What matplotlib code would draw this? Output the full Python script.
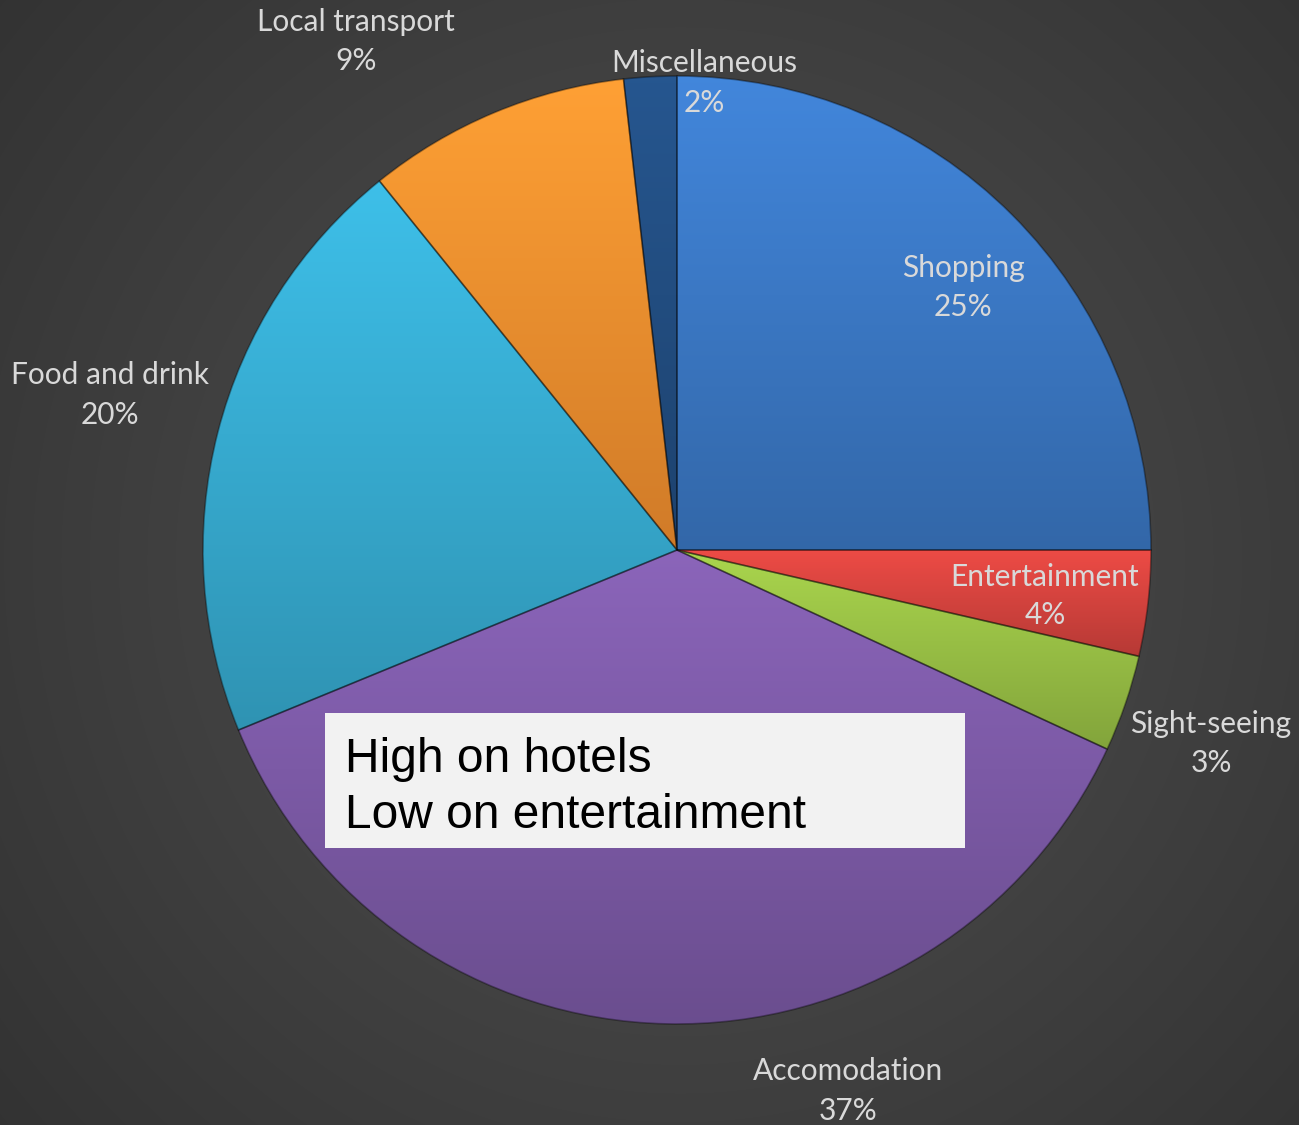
import matplotlib.pyplot as plt
import matplotlib.colors as mcolors
import numpy as np

W, H = 1299, 1125

categories = ["Shopping", "Entertainment", "Sight-seeing", "Accomodation",
              "Food and drink", "Local transport", "Miscellaneous"]
shares = [25.0, 3.6, 3.3, 36.9, 20.4, 9.0, 1.8]
pct_labels = ["25%", "4%", "3%", "37%", "20%", "9%", "2%"]
colors = ["#3b78c4", "#d4433e", "#98bf45", "#7c5aa6",
          "#37abd0", "#f28f2f", "#224d80"]

# label centres in pixels (x, y from top), as placed in the original
label_pos = [(963, 288), (1045, 596), (1211, 744), (848, 1091),
             (110, 395), (356, 42), (704, 83)]

callout = ["High on hotels", "Low on entertainment"]

cx, cy, r = 677, H - 550, 474

fig = plt.figure(figsize=(W / 100, H / 100), dpi=100)
ax = fig.add_axes([0, 0, 1, 1])

# dark radial background
yy, xx = np.mgrid[0:H, 0:W]
d = np.hypot(xx - 680, yy - 560) / 950.0
g = np.clip(0.32 - 0.13 * d, 0.18, 0.32)
bg = np.dstack([g, g, g])
ax.imshow(bg, extent=(0, W, 0, H), origin="upper", zorder=0)

wedges, _ = ax.pie(shares, colors=colors, startangle=90, counterclock=False,
                   center=(cx, cy), radius=r,
                   wedgeprops=dict(edgecolor=(0, 0, 0, 0.35), linewidth=1.2))

# per-slice vertical shading, light on top and darker below
for w, c in zip(wedges, colors):
    rgb = np.array(mcolors.to_rgb(c))
    ext = w.get_path().get_extents()
    t = np.linspace(0, 1, 200)[:, None]
    top = np.clip(rgb * 1.12, 0, 1)
    bot = rgb * 0.86
    img = top[None, :] * (1 - t) + bot[None, :] * t
    img = img[:, None, :].repeat(2, axis=1)
    im = ax.imshow(img, extent=(ext.x0, ext.x1, ext.y0, ext.y1),
                   origin="upper", aspect="auto", zorder=2.5)
    im.set_clip_path(w)
    w.set_facecolor("none")
    w.set_zorder(3)

for name, pct, (lx, ly) in zip(categories, pct_labels, label_pos):
    ax.text(lx, H - ly + 19.5, name, ha="center", va="center",
            color="#d9d9d9", fontsize=21.5, family="Lato", zorder=5)
    ax.text(lx, H - ly - 19.5, pct, ha="center", va="center",
            color="#d9d9d9", fontsize=21.5, family="Lato", zorder=5)

# callout box
ax.add_patch(plt.Rectangle((325, H - 848), 640, 135, facecolor="#f2f2f2",
                           edgecolor="none", zorder=6))
ax.text(345, H - 772, callout[0], ha="left", va="baseline", color="black",
        fontsize=34.5, family="Liberation Sans", zorder=7)
ax.text(345, H - 828, callout[1], ha="left", va="baseline", color="black",
        fontsize=34.5, family="Liberation Sans", zorder=7)

ax.set_xlim(0, W)
ax.set_ylim(0, H)
ax.set_aspect("equal")
ax.axis("off")

fig.savefig("out.png", dpi=100)
